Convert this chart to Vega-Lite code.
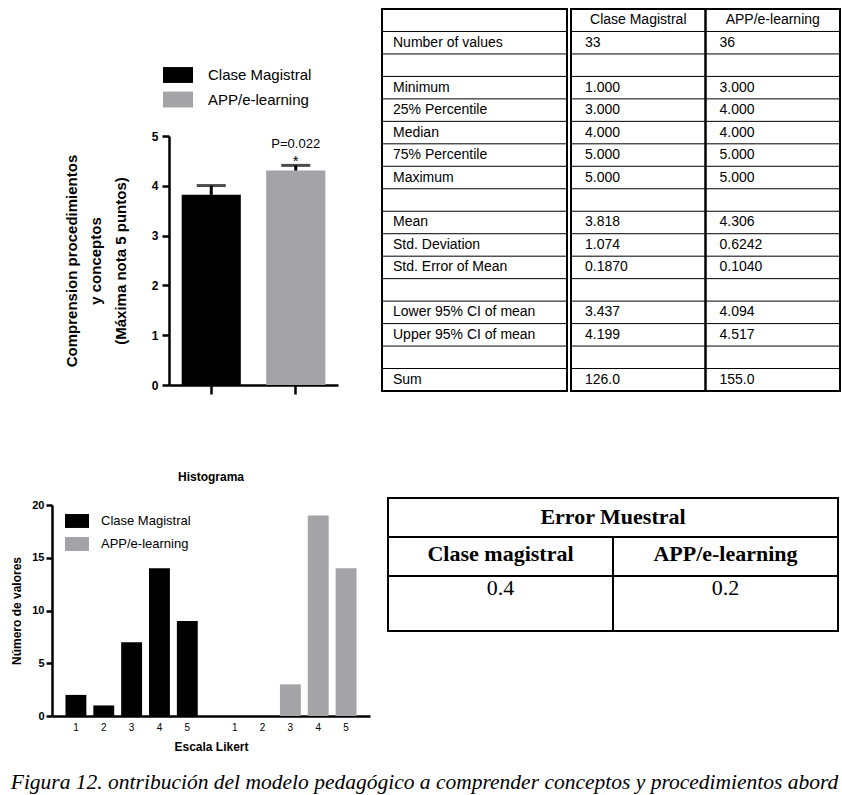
{
  "$schema": "https://vega.github.io/schema/vega-lite/v6.json",
  "background": "white",
  "padding": {"left": 10, "top": 6, "right": 0, "bottom": 2},
  "config": {
    "font": "Liberation Sans",
    "view": {"stroke": null},
    "axis": {"domainColor": "black", "tickColor": "black", "labelColor": "black", "titleColor": "black"},
    "legend": {"labelColor": "black"},
    "title": {"color": "black"},
    "text": {"color": "black"}
  },
  "title": {
    "text": "Figura 12. ontribución del modelo pedagógico a comprender conceptos y procedimientos abord",
    "orient": "bottom", "anchor": "start", "frame": "bounds",
    "font": "Liberation Serif", "fontStyle": "italic", "fontWeight": "normal", "fontSize": 21.5, "offset": 20
  },
  "datasets": {
    "means": [
      {"group": "Clase Magistral", "mean": 3.818, "upper": 4.005, "sig": "", "p": ""},
      {"group": "APP/e-learning", "mean": 4.306, "upper": 4.41, "sig": "*", "p": "P=0.022"}
    ],
    "hist": [
      {"group": "Clase Magistral", "likert": 1, "count": 2},
      {"group": "Clase Magistral", "likert": 2, "count": 1},
      {"group": "Clase Magistral", "likert": 3, "count": 7},
      {"group": "Clase Magistral", "likert": 4, "count": 14},
      {"group": "Clase Magistral", "likert": 5, "count": 9},
      {"group": "APP/e-learning", "likert": 1, "count": 0},
      {"group": "APP/e-learning", "likert": 2, "count": 0},
      {"group": "APP/e-learning", "likert": 3, "count": 3},
      {"group": "APP/e-learning", "likert": 4, "count": 19},
      {"group": "APP/e-learning", "likert": 5, "count": 14}
    ],
    "stats": [
      {"row": 1, "stat": "", "clase": "Clase Magistral", "app": "APP/e-learning"},
      {"row": 2, "stat": "Number of values", "clase": "33", "app": "36"},
      {"row": 3, "stat": "", "clase": "", "app": ""},
      {"row": 4, "stat": "Minimum", "clase": "1.000", "app": "3.000"},
      {"row": 5, "stat": "25% Percentile", "clase": "3.000", "app": "4.000"},
      {"row": 6, "stat": "Median", "clase": "4.000", "app": "4.000"},
      {"row": 7, "stat": "75% Percentile", "clase": "5.000", "app": "5.000"},
      {"row": 8, "stat": "Maximum", "clase": "5.000", "app": "5.000"},
      {"row": 9, "stat": "", "clase": "", "app": ""},
      {"row": 10, "stat": "Mean", "clase": "3.818", "app": "4.306"},
      {"row": 11, "stat": "Std. Deviation", "clase": "1.074", "app": "0.6242"},
      {"row": 12, "stat": "Std. Error of Mean", "clase": "0.1870", "app": "0.1040"},
      {"row": 13, "stat": "", "clase": "", "app": ""},
      {"row": 14, "stat": "Lower 95% CI of mean", "clase": "3.437", "app": "4.094"},
      {"row": 15, "stat": "Upper 95% CI of mean", "clase": "4.199", "app": "4.517"},
      {"row": 16, "stat": "", "clase": "", "app": ""},
      {"row": 17, "stat": "Sum", "clase": "126.0", "app": "155.0"}
    ],
    "err": [
      {"row": "title", "col": "APP/e-learning", "text": "Error Muestral"},
      {"row": "header", "col": "Clase magistral", "text": "Clase magistral"},
      {"row": "header", "col": "APP/e-learning", "text": "APP/e-learning"},
      {"row": "values", "col": "Clase magistral", "text": "0.4"},
      {"row": "values", "col": "APP/e-learning", "text": "0.2"}
    ]
  },
  "resolve": {"scale": {"x": "independent", "y": "independent", "color": "independent"}, "legend": {"color": "independent"}},
  "spacing": 75,
  "vconcat": [
    {
      "spacing": 34,
      "resolve": {"scale": {"x": "independent", "y": "independent", "color": "independent"}, "legend": {"color": "independent"}},
      "hconcat": [
        {
          "width": 294, "height": 376,
          "data": {"name": "means"},
          "encoding": {
            "x": {"field": "group", "type": "nominal", "sort": ["Clase Magistral", "APP/e-learning"],
              "scale": {"range": [117, 286], "paddingInner": 0.3, "paddingOuter": 0.15},
              "axis": {"labels": false, "title": null, "domainWidth": 2.5, "tickWidth": 2.5, "tickSize": 9}}
          },
          "layer": [
            {
              "mark": {"type": "bar"},
              "encoding": {
                "y": {"field": "mean", "type": "quantitative",
                  "scale": {"domain": [0, 5], "range": [376, 127], "nice": false},
                  "axis": {"offset": -117, "values": [0, 1, 2, 3, 4, 5], "format": "d", "grid": false, "domainWidth": 2.5, "tickWidth": 2.5, "tickSize": 7,
                    "labelFontSize": 12, "labelFontWeight": "bold", "labelPadding": 4,
                    "title": ["Comprension procedimientos", "y conceptos", "(Máxima nota 5 puntos)"],
                    "titleFontSize": 15, "titleFontWeight": "bold", "titleLineHeight": 24.5, "titlePadding": 23}},
                "color": {"field": "group", "type": "nominal",
                  "scale": {"domain": ["Clase Magistral", "APP/e-learning"], "range": ["#000000", "#a3a3a8"]},
                  "legend": {"orient": "none", "legendX": 111, "legendY": 51, "title": null,
                    "symbolType": "M-1,-0.53H1V0.53H-1Z", "symbolSize": 900, "symbolStrokeWidth": 0,
                    "labelFontSize": 15, "labelOffset": 15, "rowPadding": 1.5, "labelLimit": 300}}
              }
            },
            {
              "mark": {"type": "rule", "color": "black", "strokeWidth": 3},
              "encoding": {"y": {"field": "mean", "type": "quantitative"}, "y2": {"field": "upper"}}
            },
            {
              "mark": {"type": "tick", "color": "black", "size": 29, "thickness": 3},
              "encoding": {"y": {"field": "upper", "type": "quantitative"}}
            },
            {
              "mark": {"type": "text", "fontSize": 15, "baseline": "middle", "dy": -4},
              "encoding": {"y": {"field": "upper", "type": "quantitative"}, "text": {"field": "sig"}}
            },
            {
              "mark": {"type": "text", "fontSize": 13, "baseline": "middle", "dy": -21},
              "encoding": {"y": {"field": "upper", "type": "quantitative"}, "text": {"field": "p"}}
            }
          ]
        },
        {
          "spacing": 0,
          "resolve": {"scale": {"x": "independent", "y": "independent"}},
          "hconcat": [
            {
              "width": 185, "height": 382,
              "view": {"stroke": "black", "strokeWidth": 2},
              "data": {"name": "stats"},
              "layer": [
                {
                  "mark": {"type": "rule", "color": "black", "strokeWidth": 1},
                  "encoding": {"y": {"field": "row", "type": "ordinal", "bandPosition": 0,
                    "scale": {"type": "band", "paddingInner": 0, "paddingOuter": 0}, "axis": null}}
                },
                {
                  "mark": {"type": "text", "align": "left", "baseline": "middle", "dx": 11, "fontSize": 14},
                  "encoding": {
                    "x": {"datum": "stat", "type": "nominal", "bandPosition": 0,
                      "scale": {"type": "band", "paddingInner": 0, "paddingOuter": 0}, "axis": null},
                    "y": {"field": "row", "type": "ordinal", "scale": {"type": "band", "paddingInner": 0, "paddingOuter": 0}, "axis": null},
                    "text": {"field": "stat"}
                  }
                }
              ]
            },
            {
              "width": 269, "height": 382,
              "view": {"stroke": "black", "strokeWidth": 2},
              "data": {"name": "stats"},
              "transform": [{"fold": ["clase", "app"], "as": ["col", "val"]}],
              "layer": [
                {
                  "transform": [{"filter": "datum.col === 'clase'"}],
                  "mark": {"type": "rule", "color": "black", "strokeWidth": 1},
                  "encoding": {"y": {"field": "row", "type": "ordinal", "bandPosition": 0,
                    "scale": {"type": "band", "paddingInner": 0, "paddingOuter": 0}, "axis": null}}
                },
                {
                  "transform": [{"filter": "datum.row === 1 && datum.col === 'app'"}],
                  "mark": {"type": "rule", "color": "black", "strokeWidth": 2.5},
                  "encoding": {"x": {"field": "col", "type": "nominal", "sort": ["clase", "app"], "bandPosition": 0,
                    "scale": {"type": "band", "paddingInner": 0, "paddingOuter": 0}, "axis": null}}
                },
                {
                  "transform": [{"filter": "datum.row === 1"}],
                  "mark": {"type": "text", "align": "center", "baseline": "middle", "fontSize": 14},
                  "encoding": {
                    "x": {"field": "col", "type": "nominal", "sort": ["clase", "app"],
                      "scale": {"type": "band", "paddingInner": 0, "paddingOuter": 0}, "axis": null},
                    "y": {"field": "row", "type": "ordinal", "scale": {"type": "band", "paddingInner": 0, "paddingOuter": 0}, "axis": null},
                    "text": {"field": "val"}
                  }
                },
                {
                  "transform": [{"filter": "datum.row > 1"}],
                  "mark": {"type": "text", "align": "left", "baseline": "middle", "dx": 14, "fontSize": 14},
                  "encoding": {
                    "x": {"field": "col", "type": "nominal", "sort": ["clase", "app"], "bandPosition": 0,
                      "scale": {"type": "band", "paddingInner": 0, "paddingOuter": 0}, "axis": null},
                    "y": {"field": "row", "type": "ordinal", "scale": {"type": "band", "paddingInner": 0, "paddingOuter": 0}, "axis": null},
                    "text": {"field": "val"}
                  }
                }
              ]
            }
          ]
        }
      ]
    },
    {
      "spacing": 16,
      "resolve": {"scale": {"x": "independent", "y": "independent", "color": "independent"}, "legend": {"color": "independent"}},
      "hconcat": [
        {
          "width": 318, "height": 218,
          "title": {"text": "Histograma", "fontSize": 12, "fontWeight": "bold", "anchor": "middle", "offset": 14},
          "data": {"name": "hist"},
          "encoding": {
            "x": {"field": "group", "type": "nominal", "sort": ["Clase Magistral", "APP/e-learning"],
              "scale": {"paddingInner": 0.123, "paddingOuter": 0.063},
              "axis": {"labels": false, "ticks": false, "domainWidth": 2.5, "title": "Escala Likert",
                "titleFontSize": 12, "titleFontWeight": "bold", "titlePadding": 25}},
            "xOffset": {"field": "likert", "type": "ordinal", "scale": {"paddingInner": 0.25, "paddingOuter": 0.125}}
          },
          "layer": [
            {
              "mark": {"type": "bar"},
              "encoding": {
                "y": {"field": "count", "type": "quantitative",
                  "scale": {"domain": [0, 20], "range": [218, 7], "nice": false},
                  "axis": {"values": [0, 5, 10, 15, 20], "grid": false, "domainWidth": 2.5, "tickWidth": 2.5, "tickSize": 6,
                    "labelFontSize": 11, "labelFontWeight": "bold", "labelPadding": 2,
                    "title": "Número de valores", "titleFontSize": 12, "titleFontWeight": "bold", "titlePadding": 8}},
                "color": {"field": "group", "type": "nominal",
                  "scale": {"domain": ["Clase Magistral", "APP/e-learning"], "range": ["#000000", "#a3a3a8"]},
                  "legend": {"orient": "none", "legendX": 13, "legendY": 11, "title": null,
                    "symbolType": "M-1,-0.58H1V0.58H-1Z", "symbolSize": 576, "symbolStrokeWidth": 0,
                    "labelFontSize": 13, "labelOffset": 12, "rowPadding": 4, "labelLimit": 300}}
              }
            },
            {
              "mark": {"type": "text", "fontSize": 10, "baseline": "middle", "dy": 12},
              "encoding": {"y": {"datum": 0, "type": "quantitative"}, "text": {"field": "likert"}}
            }
          ]
        },
        {
          "width": 450, "height": 133,
          "view": {"stroke": "black", "strokeWidth": 2},
          "data": {"name": "err"},
          "encoding": {
            "x": {"field": "col", "type": "nominal", "sort": ["Clase magistral", "APP/e-learning"],
              "scale": {"type": "band", "paddingInner": 0, "paddingOuter": 0}, "axis": null},
            "y": {"field": "row", "type": "nominal", "sort": ["title", "header", "values"],
              "scale": {"type": "band", "domain": ["title", "header", "values"], "paddingInner": 0, "paddingOuter": 0.205, "align": 0}, "axis": null}
          },
          "layer": [
            {
              "transform": [{"filter": "datum.col === 'Clase magistral'"}],
              "mark": {"type": "rule", "color": "black", "strokeWidth": 2},
              "encoding": {
                "x": null,
                "y": {"field": "row", "type": "nominal", "bandPosition": 0,
                  "scale": {"type": "band", "domain": ["title", "header", "values"], "paddingInner": 0, "paddingOuter": 0.205, "align": 0}, "axis": null}
              }
            },
            {
              "transform": [{"filter": "datum.row === 'header' && datum.col === 'APP/e-learning'"}],
              "mark": {"type": "rule", "color": "black", "strokeWidth": 2},
              "encoding": {
                "x": {"field": "col", "type": "nominal", "bandPosition": 0,
                  "scale": {"type": "band", "paddingInner": 0, "paddingOuter": 0}, "axis": null},
                "y": {"field": "row", "type": "nominal", "bandPosition": 0,
                  "scale": {"type": "band", "domain": ["title", "header", "values"], "paddingInner": 0, "paddingOuter": 0.205, "align": 0}, "axis": null},
                "y2": {"value": "height"}
              }
            },
            {
              "transform": [{"filter": "datum.row === 'title'"}],
              "mark": {"type": "text", "font": "Liberation Serif", "fontWeight": "bold", "fontSize": 22, "baseline": "middle", "dy": -1},
              "encoding": {
                "x": {"field": "col", "type": "nominal", "bandPosition": 0,
                  "scale": {"type": "band", "paddingInner": 0, "paddingOuter": 0}, "axis": null},
                "text": {"field": "text"}
              }
            },
            {
              "transform": [{"filter": "datum.row === 'header'"}],
              "mark": {"type": "text", "font": "Liberation Serif", "fontWeight": "bold", "fontSize": 22, "baseline": "middle", "dy": -3},
              "encoding": {"text": {"field": "text"}}
            },
            {
              "transform": [{"filter": "datum.row === 'values'"}],
              "mark": {"type": "text", "font": "Liberation Serif", "fontSize": 22, "baseline": "middle"},
              "encoding": {
                "y": {"field": "row", "type": "nominal", "bandPosition": 0.3,
                  "scale": {"type": "band", "domain": ["title", "header", "values"], "paddingInner": 0, "paddingOuter": 0.205, "align": 0}, "axis": null},
                "text": {"field": "text"}
              }
            }
          ]
        }
      ]
    }
  ]
}
